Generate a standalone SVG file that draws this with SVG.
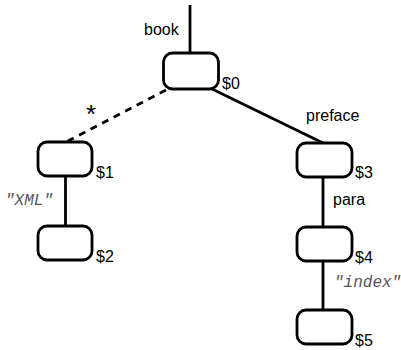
<svg xmlns="http://www.w3.org/2000/svg" width="401" height="350" viewBox="0 0 401 350">
<style>
.node{fill:#fff;stroke:#000;stroke-width:2.8}
.edge{stroke:#000;stroke-width:2.8;fill:none}
.dash{stroke-dasharray:7 6}
.lbl{font-family:"Liberation Sans",Arial,sans-serif;font-size:16px;fill:#000}
.str{font-family:"Liberation Mono","Courier New",monospace;font-style:italic;font-size:16px;fill:#555}
</style>
<rect width="401" height="350" fill="#fff"/>
<g id="connectors">
<line class="edge" x1="190" y1="5" x2="190" y2="53"/>
<line class="edge dash" x1="166" y1="90" x2="66" y2="142"/>
<line class="edge" x1="210" y1="88" x2="323" y2="143"/>
<line class="edge" x1="65.5" y1="176" x2="65.5" y2="226"/>
<line class="edge" x1="323" y1="177" x2="323" y2="227"/>
<line class="edge" x1="323" y1="261" x2="323" y2="310"/>
<text class="lbl" x="144" y="35">book</text>
<text class="lbl" x="86" y="123" style="font-size:26px">*</text>
<text class="lbl" x="306" y="121">preface</text>
<text class="lbl" x="333" y="205">para</text>
<text class="str" x="5" y="205">"XML"</text>
<text class="str" x="334" y="287">"index"</text>
</g>
<g id="n0"><rect class="node" x="163.5" y="53" width="55" height="36" rx="9"/><text class="lbl" x="222" y="89">$0</text></g>
<g id="n1"><rect class="node" x="38" y="142" width="54" height="34" rx="9"/><text class="lbl" x="96" y="178">$1</text></g>
<g id="n2"><rect class="node" x="38" y="226" width="54" height="34" rx="9"/><text class="lbl" x="96" y="262">$2</text></g>
<g id="n3"><rect class="node" x="297" y="143" width="55" height="34" rx="9"/><text class="lbl" x="355" y="178">$3</text></g>
<g id="n4"><rect class="node" x="297" y="227" width="55" height="34" rx="9"/><text class="lbl" x="355" y="263">$4</text></g>
<g id="n5"><rect class="node" x="297" y="310" width="55" height="34" rx="9"/><text class="lbl" x="355" y="346">$5</text></g>
</svg>
